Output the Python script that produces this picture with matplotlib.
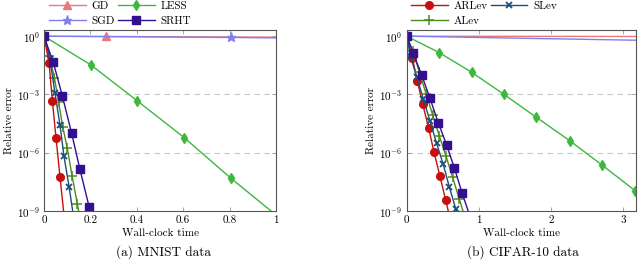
import numpy as np
import matplotlib
matplotlib.use("Agg")
import matplotlib.pyplot as plt
from matplotlib.ticker import LogFormatterMathtext, NullLocator

plt.rcParams["font.family"] = ["cmr10", "DejaVu Serif"]
plt.rcParams["mathtext.fontset"] = "cm"
plt.rcParams["axes.formatter.use_mathtext"] = True

# ---- MNIST (left) ----
mn_gd_x = [0, 0.267, 1.07]
mn_gd_y = [1.0, 0.97, 0.89]
mn_sgd_x = [0, 0.806, 1.07]
mn_sgd_y = [1.0, 0.86, 0.80]
mn_less_x = [0, 0.201, 0.403, 0.605, 0.806, 1.008]
mn_less_y = [1.0, 3.4e-2, 4.6e-4, 5.9e-6, 4.8e-8, 5.2e-10]
mn_srht_x = [0, 0.040, 0.079, 0.119, 0.155, 0.195, 0.235]
mn_srht_y = [1.0, 4.5e-2, 8.5e-4, 1.02e-5, 1.38e-7, 1.55e-9, 2.0e-11]
mn_arlev_x = [0, 0.022, 0.036, 0.052, 0.069, 0.086]
mn_arlev_y = [1.0, 4.0e-2, 4.7e-4, 5.6e-6, 5.8e-8, 6.3e-10]
mn_slev_x = [0, 0.025, 0.047, 0.069, 0.086, 0.108, 0.128]
mn_slev_y = [1.0, 7.1e-2, 1.26e-3, 2.6e-5, 6.8e-7, 1.8e-8, 4.5e-10]
mn_alev_x = [0, 0.023, 0.045, 0.063, 0.081, 0.100, 0.121, 0.144, 0.16]
mn_alev_y = [1.0, 0.1, 7.2e-3, 4.0e-4, 2.1e-5, 1.8e-6, 6.5e-8, 2.2e-9, 2.0e-10]

# ---- CIFAR-10 (right) ----
cf_gd_x = [0, 3.3]
cf_gd_y = [1.0, 0.97]
cf_sgd_x = [0, 3.3]
cf_sgd_y = [1.0, 0.61]
cf_less_x = [0, 0.448, 0.9, 1.35, 1.8, 2.26, 2.71, 3.17]
cf_less_y = [1.0, 0.145, 1.4e-2, 1.0e-3, 6.6e-5, 4.2e-6, 2.3e-7, 1.1e-8]
cf_srht_x = [0, 0.091, 0.208, 0.323, 0.438, 0.554, 0.662, 0.77, 0.88]
cf_srht_y = [1.0, 0.129, 1.0e-2, 6.3e-4, 3.5e-5, 2.5e-6, 1.6e-7, 8.1e-9, 5.0e-10]
cf_arlev_x = [0, 0.078, 0.147, 0.222, 0.305, 0.378, 0.461, 0.54, 0.62]
cf_arlev_y = [1.0, 7.6e-2, 5.0e-3, 3.2e-4, 1.8e-5, 1.1e-6, 6.3e-8, 3.6e-9, 2.2e-10]
cf_slev_x = [0, 0.05, 0.14, 0.232, 0.323, 0.415, 0.507, 0.59, 0.681, 0.77]
cf_slev_y = [1.0, 0.1, 7.9e-3, 5.6e-4, 4.3e-5, 3.0e-6, 2.5e-7, 1.8e-8, 1.26e-9, 1.0e-10]
cf_alev_x = [0, 0.084, 0.176, 0.268, 0.36, 0.452, 0.544, 0.637, 0.729, 0.821]
cf_alev_y = [1.0, 0.18, 1.4e-2, 1.1e-3, 8.9e-5, 7.4e-6, 6.9e-7, 5.4e-8, 4.2e-9, 3.2e-10]

# styles
styles = {
    "GD":    dict(color="#e8797c", marker="^", ms=5.5),
    "SGD":   dict(color="#7f7ff0", marker="*", ms=6.5),
    "LESS":  dict(color="#3cb83c", marker="d", ms=5.5),
    "SRHT":  dict(color="#33108f", marker="s", ms=5.5),
    "ARLev": dict(color="#c80f0f", marker="o", ms=5.5),
    "SLev":  dict(color="#1a4e7c", marker="x", ms=4.5, mew=1.3),
    "ALev":  dict(color="#4f8a1c", marker="+", ms=6.5, mew=1.1),
}

fig = plt.figure(figsize=(6.4, 2.62), dpi=100)
ax1 = fig.add_axes([44 / 640, 51 / 262, 232 / 640, 181 / 262])
ax2 = fig.add_axes([406.7 / 640, 51 / 262, 229.3 / 640, 181 / 262])


def draw(ax, data, gd_mark, sgd_mark):
    handles = {}
    for name, (x, y) in data.items():
        st = dict(styles[name])
        kw = dict(lw=1.0, color=st.pop("color"), marker=st.pop("marker"),
                  markersize=st.pop("ms"), **st)
        if name == "GD":
            kw["markevery"] = gd_mark
        if name == "SGD":
            kw["markevery"] = sgd_mark
        h, = ax.plot(x, y, label=name, **kw)
        handles[name] = h
    return handles


h1 = draw(ax1, {
    "GD": (mn_gd_x, mn_gd_y),
    "SGD": (mn_sgd_x, mn_sgd_y),
    "LESS": (mn_less_x, mn_less_y),
    "ALev": (mn_alev_x, mn_alev_y),
    "SLev": (mn_slev_x, mn_slev_y),
    "ARLev": (mn_arlev_x, mn_arlev_y),
    "SRHT": (mn_srht_x, mn_srht_y),
}, [0, 1], [0, 1])

h2 = draw(ax2, {
    "GD": (cf_gd_x, cf_gd_y),
    "SGD": (cf_sgd_x, cf_sgd_y),
    "LESS": (cf_less_x, cf_less_y),
    "ARLev": (cf_arlev_x, cf_arlev_y),
    "SLev": (cf_slev_x, cf_slev_y),
    "ALev": (cf_alev_x, cf_alev_y),
    "SRHT": (cf_srht_x, cf_srht_y),
}, [0], [0])

for ax, xmax, xt in [(ax1, 1.0, [0, 0.2, 0.4, 0.6, 0.8, 1]),
                     (ax2, 3.18, [0, 1, 2, 3])]:
    ax.set_yscale("log")
    ax.set_ylim(1e-9, 10 ** 0.32)
    ax.set_xlim(0, xmax)
    ax.set_xticks(xt)
    ax.set_xticklabels([("%g" % v) for v in xt])
    ax.set_yticks([1e-9, 1e-6, 1e-3, 1e0])
    ax.yaxis.set_major_formatter(LogFormatterMathtext())
    ax.yaxis.set_minor_locator(NullLocator())
    for y in [1e-3, 1e-6]:
        ax.axhline(y, color="#c8c8c8", lw=0.8, ls=(0, (5, 4)), zorder=0)
    ax.tick_params(direction="in", top=True, right=True, length=3,
                   width=0.6, color="#999999", labelsize=8, pad=3)
    for s in ax.spines.values():
        s.set_color("#555555")
        s.set_linewidth(0.8)
    ax.set_xlabel("Wall-clock time", fontsize=8, labelpad=3)
    ax.set_ylabel("Relative error", fontsize=8, labelpad=2)

fig.text(163 / 640, 1 - 252 / 262, "(a) MNIST data", ha="center", va="center", fontsize=9.5)
fig.text(523 / 640, 1 - 252 / 262, "(b) CIFAR-10 data", ha="center", va="center", fontsize=9.5)

leg_kw = dict(ncol=2, frameon=False, fontsize=8, handlelength=3.3,
              handletextpad=0.5, columnspacing=0.3, labelspacing=0.45,
              borderaxespad=0, borderpad=0.1)
fig.legend([h1["GD"], h1["SGD"], h1["LESS"], h1["SRHT"]],
           ["GD", "SGD", "LESS", "SRHT"], loc="upper left",
           bbox_to_anchor=(48 / 640, 1.0), **leg_kw)
fig.legend([h2["ARLev"], h2["ALev"], h2["SLev"]],
           ["ARLev", "ALev", "SLev"], loc="upper left",
           bbox_to_anchor=(410 / 640, 1.0), **leg_kw)

fig.savefig("out.png", dpi=100)
